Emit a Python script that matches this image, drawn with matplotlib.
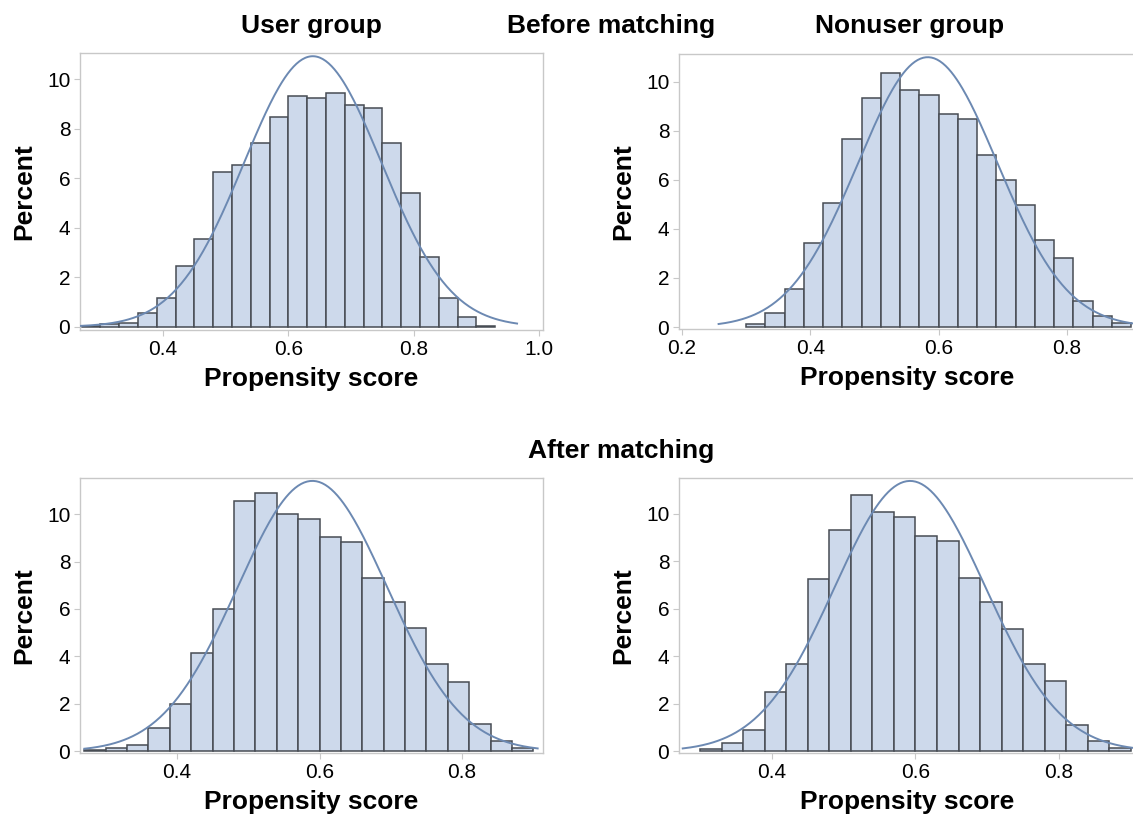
import numpy as np
import matplotlib
matplotlib.use("Agg")
import matplotlib.pyplot as plt

plt.rcParams["font.family"] = ["Liberation Sans", "DejaVu Sans"]

# bin edges are 0.03 wide; each list gives percent per bin starting at `start`
BIN_W = 0.03
user_before_start = 0.27
user_before = [0.05, 0.1, 0.15, 0.55, 1.17, 2.45, 3.54, 6.23, 6.52, 7.4, 8.45,
               9.33, 9.25, 9.43, 8.95, 8.83, 7.4, 5.4, 2.82, 1.17, 0.38, 0.05]
nonuser_before_start = 0.30
nonuser_before = [0.14, 0.57, 1.55, 3.42, 5.04, 7.68, 9.33, 10.34, 9.65, 9.44,
                  8.70, 8.49, 7.01, 5.99, 4.97, 3.56, 2.80, 1.05, 0.43, 0.16]
user_after_start = 0.27
user_after = [0.04, 0.15, 0.28, 1.0, 2.0, 4.16, 6.0, 10.56, 10.88, 10.0, 9.78,
              9.04, 8.82, 7.30, 6.28, 5.20, 3.69, 2.92, 1.14, 0.45, 0.14]
nonuser_after_start = 0.30
nonuser_after = [0.11, 0.35, 0.9, 2.48, 3.66, 7.26, 9.30, 10.78, 10.08, 9.87,
                 9.06, 8.84, 7.31, 6.28, 5.16, 3.66, 2.94, 1.12, 0.45, 0.13]

# fitted normal curves: mean, sd, x-range drawn
normal_fits = {
    "ub": (0.639, 0.1096, 0.268, 0.965),
    "nb": (0.583, 0.1088, 0.257, 0.91),
    "ua": (0.590, 0.1050, 0.270, 0.906),
    "na": (0.5925, 0.1052, 0.2756, 0.91),
}

W, H = 1133, 818
FILL = "#cdd9eb"
EDGE = "#474c53"
CURVE = "#6c89b2"
FRAME = "#c8c8c8"

fig = plt.figure(figsize=(W / 100, H / 100), dpi=100)


def add_ax(x0, x1, y0, y1):
    # pixel box -> figure fraction (y measured from top)
    return fig.add_axes([x0 / W, 1 - y1 / H, (x1 - x0) / W, (y1 - y0) / H])


def panel(ax, start, vals, fit, xlim, ylim, xticks):
    edges = start + BIN_W * np.arange(len(vals) + 1)
    ax.bar(edges[:-1], vals, width=BIN_W, align="edge", color=FILL,
           edgecolor=EDGE, linewidth=1.1, zorder=2)
    mu, sd, a, b = fit
    xs = np.linspace(a, b, 300)
    ys = 100 * BIN_W * np.exp(-0.5 * ((xs - mu) / sd) ** 2) / (sd * np.sqrt(2 * np.pi))
    ax.plot(xs, ys, color=CURVE, lw=1.4, zorder=3)
    ax.set_xlim(*xlim)
    ax.set_ylim(*ylim)
    ax.set_xticks(xticks)
    ax.set_xticklabels([f"{t:.1f}" for t in xticks])
    ax.set_yticks([0, 2, 4, 6, 8, 10])
    for s in ax.spines.values():
        s.set_color(FRAME)
        s.set_linewidth(1.0)
    ax.tick_params(length=4, color=FRAME, labelsize=15, pad=3)
    ax.set_xlabel("Propensity score", fontsize=19, fontweight="bold", labelpad=6)
    ax.set_ylabel("Percent", fontsize=19, fontweight="bold", labelpad=8)


ax1 = add_ax(80, 543, 53, 330)
panel(ax1, user_before_start, user_before, normal_fits["ub"],
      (0.2675, 1.0064), (-0.13, 11.05), [0.4, 0.6, 0.8, 1.0])
ax2 = add_ax(679, 1135, 54, 329)
panel(ax2, nonuser_before_start, nonuser_before, normal_fits["nb"],
      (0.1953, 0.906), (-0.08, 11.13), [0.2, 0.4, 0.6, 0.8])
ax3 = add_ax(80, 543, 478, 753)
panel(ax3, user_after_start, user_after, normal_fits["ua"],
      (0.264, 0.9135), (-0.07, 11.52), [0.4, 0.6, 0.8])
ax4 = add_ax(679, 1135, 478, 753)
panel(ax4, nonuser_after_start, nonuser_after, normal_fits["na"],
      (0.2704, 0.906), (-0.07, 11.5), [0.4, 0.6, 0.8])

kw = dict(fontsize=19, fontweight="bold", ha="center", va="baseline")
fig.text(311 / W, 1 - 33 / H, "User group", **kw)
fig.text(611 / W, 1 - 33 / H, "Before matching", **kw)
fig.text(910 / W, 1 - 33 / H, "Nonuser group", **kw)
fig.text(621 / W, 1 - 458 / H, "After matching", **kw)

fig.savefig("out.png", dpi=100)
